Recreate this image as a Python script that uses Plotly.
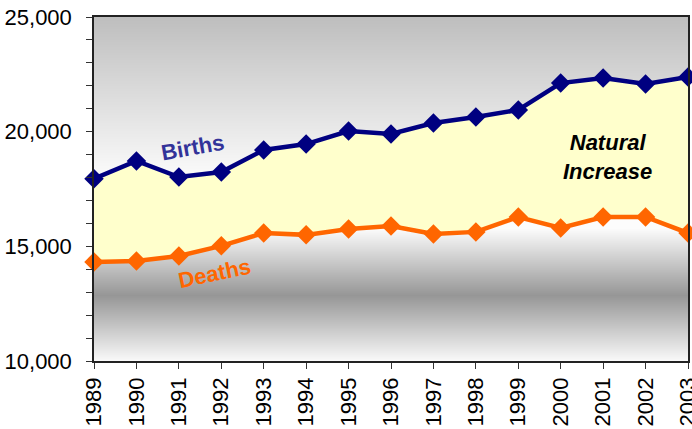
import plotly.graph_objects as go

years = list(range(1989, 2004))
year_labels = [str(y) for y in years]
births = [17950, 18720, 18020, 18240, 19200, 19460, 20030, 19900, 20380, 20640,
          20950, 22120, 22340, 22080, 22380]
deaths = [14320, 14360, 14580, 15020, 15580, 15500, 15760, 15890, 15540, 15630,
          16280, 15800, 16280, 16280, 15580]

y_ticks = [10000, 15000, 20000, 25000]

# background gradient stops (value level -> gray level)
bg_levels = [10000, 12880, 15800, 18110, 21380, 25000]
bg_gray = [250, 150, 252, 250, 222, 190]

fig = go.Figure()

fig.add_trace(go.Heatmap(
    x=[years[0], years[-1]],
    y=bg_levels,
    z=[[g, g] for g in bg_gray],
    zmin=0, zmax=255,
    colorscale=[[0, "rgb(0,0,0)"], [1, "rgb(255,255,255)"]],
    zsmooth="best", showscale=False, hoverinfo="skip",
))

fig.add_trace(go.Scatter(
    x=years, y=deaths, mode="lines+markers", name="Deaths",
    line=dict(color="#ff6600", width=4.5),
    marker=dict(symbol="diamond", size=15, color="#ff6600"),
    showlegend=False, cliponaxis=False,
))
fig.add_trace(go.Scatter(
    x=years, y=births, mode="lines+markers", name="Births",
    fill="tonexty", fillcolor="#ffffcc",
    line=dict(color="#000080", width=4.5),
    marker=dict(symbol="diamond", size=15, color="#000080"),
    showlegend=False, cliponaxis=False,
))

font_family = "Liberation Sans, Arial, sans-serif"

fig.add_annotation(x=1991.33, y=19290, text="<b>Births</b>", showarrow=False,
                   textangle=-10, font=dict(family=font_family, size=22, color="#333399"))
fig.add_annotation(x=1991.83, y=13800, text="<b>Deaths</b>", showarrow=False,
                   textangle=-12, font=dict(family=font_family, size=22, color="#ff6600"))
fig.add_annotation(x=2001.11, y=18900, text="<b><i>Natural<br>Increase</i></b>", showarrow=False,
                   font=dict(family=font_family, size=22, color="black"))

fig.update_layout(
    width=692, height=429,
    margin=dict(l=94, r=4, t=17, b=68),
    paper_bgcolor="white", plot_bgcolor="white",
    template="none",
    font=dict(family=font_family, size=22, color="black"),
    showlegend=False,
)
fig.update_xaxes(
    range=[years[0], years[-1]], tickvals=years, ticktext=year_labels,
    tickangle=-90, ticks="outside", ticklen=6, tickcolor="#333",
    showline=True, mirror=True, linecolor="#222", linewidth=1.5,
    showgrid=False, zeroline=False, tickfont=dict(size=22), automargin=False,
    ticklabeloverflow="allow",
)
fig.update_yaxes(
    range=[10000, 25000], tickvals=y_ticks, tickformat=",",
    ticks="outside", ticklen=6, tickcolor="#333",
    minor=dict(dtick=1000, ticks="outside", ticklen=6, tickcolor="#333", showgrid=False),
    showline=True, mirror=True, linecolor="#222", linewidth=1.5,
    showgrid=False, zeroline=False, tickfont=dict(size=22), ticklabelstandoff=10,
    automargin=False, ticklabeloverflow="allow",
)

fig.write_html("out.html", config={"displayModeBar": False},
               post_script="document.body.style.margin='0';document.body.style.overflow='hidden';")
